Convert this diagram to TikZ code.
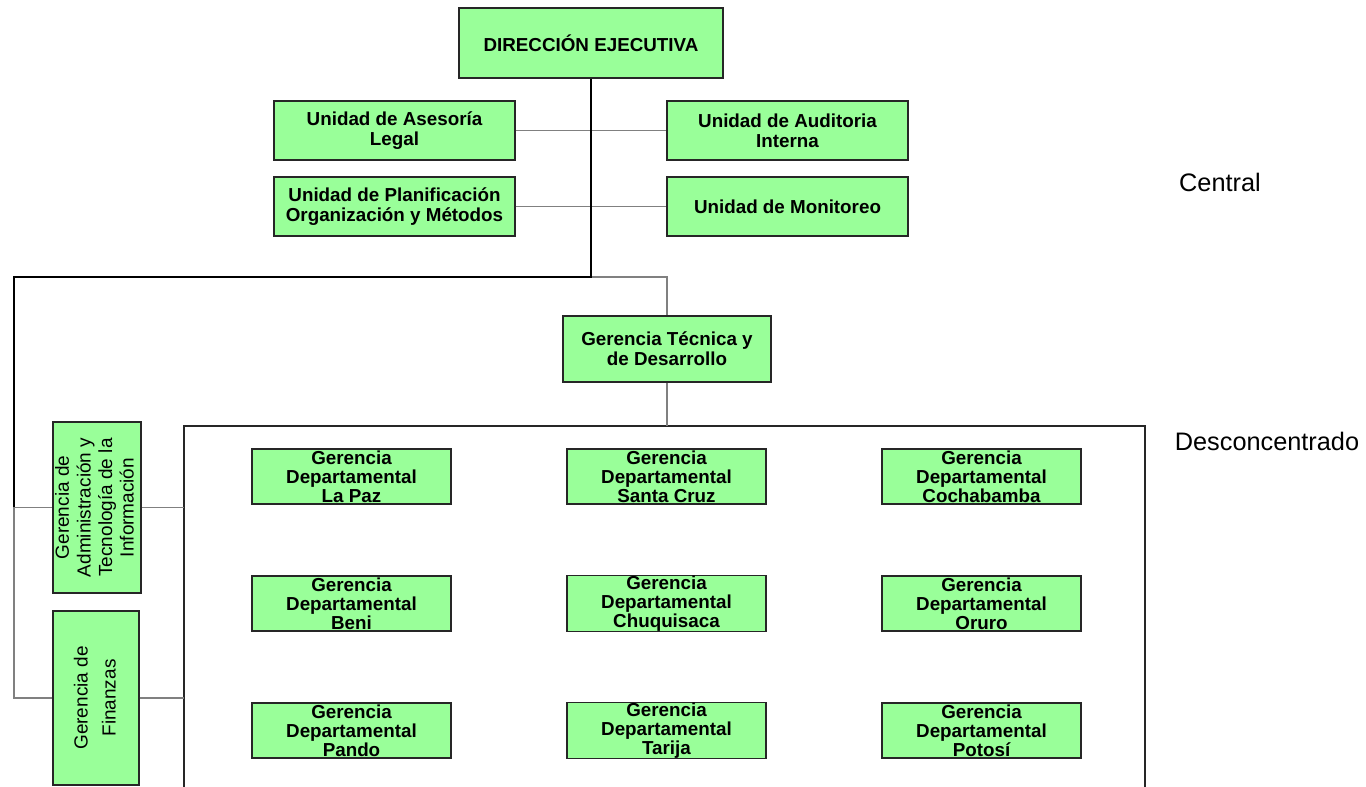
\documentclass[tikz,border=0pt]{standalone}
\usepackage{fontspec}
\setmainfont{Liberation Sans}

\definecolor{boxgreen}{RGB}{153,255,153}
\tikzset{
	unitbox/.style={draw=black!85, fill=boxgreen, line width=0.6pt, align=center, inner sep=0pt, font=\fontsize{10.7}{11.2}\selectfont\bfseries},
	depbox/.style={unitbox, minimum width=3.98cm, minimum height=1.10cm, font=\fontsize{10.7}{10.8}\selectfont\bfseries},
	sidebox/.style={unitbox, font=\fontsize{10.8}{12.3}\selectfont},
	link/.style={draw=black!50, line width=0.6pt},
	trunk/.style={draw=black, line width=0.8pt},
	frame/.style={draw=black!85, line width=0.6pt},
	level/.style={font=\fontsize{14.4}{16}\selectfont}
}

\begin{document}
\begin{tikzpicture}
				\useasboundingbox(0,0)rectangle(27.32,-15.74);
				\node[unitbox, minimum width=5.28cm, minimum height=1.40cm](dir)at(11.82,-0.86){DIRECCIÓN EJECUTIVA};
				\node[unitbox, minimum width=4.82cm, minimum height=1.18cm](legal)at(7.89,-2.61){Unidad de Asesoría\\Legal};
				\node[unitbox, minimum width=4.82cm, minimum height=1.18cm](audit)at(15.75,-2.61){Unidad de Auditoria\\Interna};
				\node[unitbox, minimum width=4.82cm, minimum height=1.18cm](plan)at(7.89,-4.13){Unidad de Planificación\\Organización y Métodos};
				\node[unitbox, minimum width=4.82cm, minimum height=1.18cm](monit)at(15.75,-4.13){Unidad de Monitoreo};
				\node[unitbox, minimum width=4.16cm, minimum height=1.32cm](tec)at(13.34,-6.98){Gerencia Técnica y\\de Desarrollo};
				\node[sidebox, minimum width=1.76cm, minimum height=3.42cm](admin)at(1.94,-10.15){\rotatebox{90}{\begin{tabular}{@{}c@{}}Gerencia de\\Administración y\\Tecnología de la\\Información\end{tabular}}};
				\node[sidebox, minimum width=1.72cm, minimum height=3.48cm, font=\fontsize{10.8}{16}\selectfont](fin)at(1.92,-13.96){\rotatebox{90}{\begin{tabular}{@{}c@{}}Gerencia de\\Finanzas\end{tabular}}};
				\node[depbox](lapaz)at(7.03,-9.53){Gerencia\\Departamental\\La Paz};
				\node[depbox](scruz)at(13.33,-9.53){Gerencia\\Departamental\\Santa Cruz};
				\node[depbox](cbba)at(19.63,-9.53){Gerencia\\Departamental\\Cochabamba};
				\node[depbox](beni)at(7.03,-12.07){Gerencia\\Departamental\\Beni};
				\node[depbox](chuq)at(13.33,-12.07){Gerencia\\Departamental\\Chuquisaca};
				\node[depbox](oruro)at(19.63,-12.07){Gerencia\\Departamental\\Oruro};
				\node[depbox](pando)at(7.03,-14.61){Gerencia\\Departamental\\Pando};
				\node[depbox](tarija)at(13.33,-14.61){Gerencia\\Departamental\\Tarija};
				\node[depbox](potosi)at(19.63,-14.61){Gerencia\\Departamental\\Potosí};
				\node[level](central)at(24.4,-3.64){Central};
				\node[level](desc)at(25.34,-8.82){Desconcentrado};
				\coordinate(hub)at(11.82,-5.54);
				\coordinate(lft)at(0.28,-5.54);
				\coordinate(ftop)at(13.34,-8.52);
				\coordinate(fleft)at(3.68,-8.52);
				\coordinate(fright)at(22.9,-8.52);
				\draw[frame](fleft|-0,-15.74)--(fleft)--(fright)--(fright|-0,-15.74);
				\draw[link](legal.east)--(audit.west);
				\draw[link](plan.east)--(monit.west);
				\draw[link](hub)-|(tec.north);
				\draw[link](tec.south)--(ftop);
				\draw[link](lft|-admin)--(admin.west);
				\draw[link](lft|-admin)--(lft|-fin)--(fin.west);
				\draw[link](admin.east)--(admin.east-|fleft);
				\draw[link](fin.east)--(fin.east-|fleft);
				\draw[trunk](dir.south)--(hub)--(lft)--(lft|-admin);
			\end{tikzpicture}
\end{document}
